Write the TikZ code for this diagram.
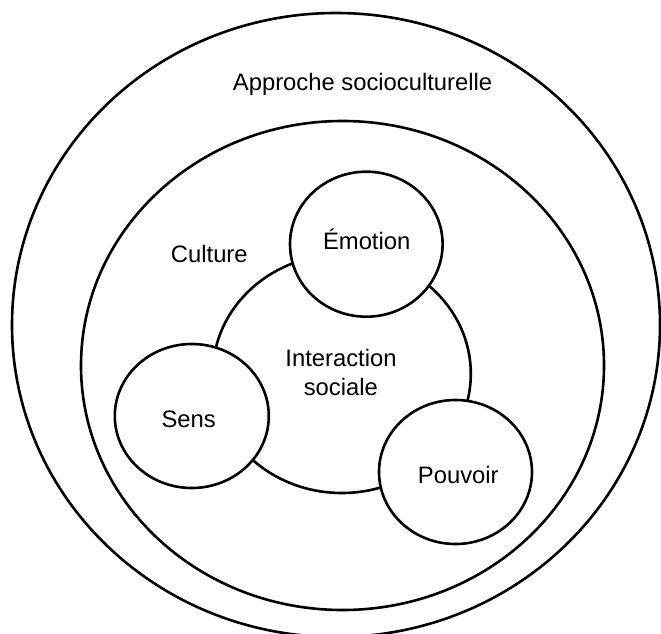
\documentclass[tikz,border=0pt]{standalone}
\usepackage{fontspec}
\setmainfont{Liberation Sans}
\usetikzlibrary{shapes.geometric}
\begin{document}
\begin{tikzpicture}[x=1pt,y=-1pt,
  oval/.style 2 args={draw=black, ellipse, line width=2.6pt, inner sep=0pt,
    outer sep=0pt, minimum width=#1pt, minimum height=#2pt},
  disc/.style={fill=white},
  txt/.style={font=\fontsize{23.8}{28}\selectfont, anchor=base, inner sep=0pt}]
  \useasboundingbox (0,0) rectangle (661,634);
  % nested rings
  \node[oval={648}{624}] (outer) at (336,325) {};
  \node[oval={523}{489}] (culture) at (342.5,365.5) {};
  % central interaction and the three overlapping discs
  \node[oval={258}{238.6}] (inter) at (341.8,373.7) {};
  \node[oval={152.6}{145}, disc] (emotion) at (366.3,244.2) {};
  \node[oval={154}{144}, disc] (sens) at (191.8,416) {};
  \node[oval={153}{144}, disc] (pouvoir) at (455.5,472) {};
  % labels
  \node[txt] (tApproche) at (362.6,90.7) {Approche socioculturelle};
  \node[txt] (tCulture) at (209.3,262.7) {Culture};
  \node[txt] (tEmotion) at (366.7,249.3) {Émotion};
  \node[txt] (tInter1) at (341,366.7) {Interaction};
  \node[txt] (tInter2) at (340.8,395) {sociale};
  \node[txt] (tSens) at (188.7,427.7) {Sens};
  \node[txt] (tPouvoir) at (458.3,483.3) {Pouvoir};
\end{tikzpicture}
\end{document}
